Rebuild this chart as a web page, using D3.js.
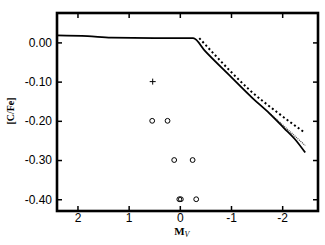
<!DOCTYPE html>
<html>
<head>
<meta charset="utf-8">
<script src="https://cdn.jsdelivr.net/npm/d3@7"></script>
<style>
  body { margin: 0; background: #fff; }
  svg text { font-family: "Liberation Sans", Arial, sans-serif; }
</style>
</head>
<body>
<div id="chart"></div>
<script>
// model curves: [Mv, [C/Fe]]
var solidLine = [[2.4, 0.018], [1.8, 0.016], [1.34, 0.012], [0.5, 0.011], [-0.26, 0.011],
    [-0.5, -0.023], [-1.0, -0.088], [-1.42, -0.142], [-1.75, -0.181], [-2.04, -0.219], [-2.25, -0.247], [-2.45, -0.281]];
var dashedLine = [[-0.38, 0.011], [-0.7, -0.034], [-1.0, -0.075], [-1.36, -0.121], [-1.9, -0.178], [-2.45, -0.231]];
var dottedLine = [[-1.75, -0.180], [-2.04, -0.214], [-2.45, -0.263]];

// observed stars
var plusStars = [[0.53, -0.10]];
var circleStars = [[0.54, -0.20], [0.24, -0.20], [0.11, -0.30], [-0.25, -0.30], [0.01, -0.40], [-0.02, -0.40], [-0.32, -0.40]];

var xTicks = [2, 1, 0, -1, -2];
var yTicks = [0.00, -0.10, -0.20, -0.30, -0.40];

var width = 325, height = 245;
var padL = 57, padR = 318, padT = 13, padB = 211;

var svg = d3.select("#chart").append("svg")
    .attr("width", width)
    .attr("height", height);

var x = d3.scaleLinear().domain([2.4, -2.7]).range([padL, padR]);
var y = d3.scaleLinear().domain([-0.43, 0.075]).range([padB, padT]);

/* axes: ticks point inward on all four sides */
var xb = svg.append("g").attr("transform", "translate(0," + padB + ")")
    .call(d3.axisBottom(x).tickValues(xTicks).tickSizeInner(-5).tickSizeOuter(0).tickPadding(2));
var xt = svg.append("g").attr("transform", "translate(0," + padT + ")")
    .call(d3.axisTop(x).tickValues(xTicks).tickSizeInner(-5).tickSizeOuter(0).tickFormat(""));
var yl = svg.append("g").attr("transform", "translate(" + padL + ",0)")
    .call(d3.axisLeft(y).tickValues(yTicks).tickSizeInner(-5).tickSizeOuter(0).tickPadding(5));
var yr = svg.append("g").attr("transform", "translate(" + padR + ",0)")
    .call(d3.axisRight(y).tickValues(yTicks).tickSizeInner(-5).tickSizeOuter(0).tickFormat(""));

[xb, xt, yl, yr].forEach(function(g){
    g.select(".domain").remove();
    g.selectAll(".tick line").attr("stroke", "#000").attr("stroke-width", 1.5);
    g.selectAll(".tick text").attr("fill", "#000").style("font-size", "12px");
});
yl.selectAll(".tick text").text(function(d){ return d.toFixed(2); });
xb.selectAll(".tick text").text(function(d){ return String(d); });

svg.append("rect")
    .attr("x", padL).attr("y", padT)
    .attr("width", padR - padL).attr("height", padB - padT)
    .attr("fill", "none").attr("stroke", "#000").attr("stroke-width", 2.6);

var line = d3.line().x(d => x(d[0])).y(d => y(d[1])).curve(d3.curveMonotoneX);

svg.append("path").datum(dottedLine).attr("d", line)
    .attr("fill", "none").attr("stroke", "#444").attr("stroke-width", 1.2)
    .attr("stroke-dasharray", "1,1");
svg.append("path").datum(dashedLine).attr("d", line)
    .attr("fill", "none").attr("stroke", "#000").attr("stroke-width", 2)
    .attr("stroke-dasharray", "2,2.6");
svg.append("path").datum(solidLine).attr("d", line)
    .attr("fill", "none").attr("stroke", "#000").attr("stroke-width", 1.8);

svg.selectAll("circle.star").data(circleStars).enter().append("circle")
    .attr("class", "star")
    .attr("cx", d => x(d[0])).attr("cy", d => y(d[1])).attr("r", 2.4)
    .attr("fill", "none").attr("stroke", "#000").attr("stroke-width", 1);

svg.selectAll("path.plus").data(plusStars).enter().append("path")
    .attr("class", "plus")
    .attr("d", d => "M" + (x(d[0]) - 3) + "," + y(d[1]) + "h6M" + x(d[0]) + "," + (y(d[1]) - 3) + "v6")
    .attr("stroke", "#000").attr("stroke-width", 1);

/* axis titles */
svg.append("text")
    .attr("transform", "translate(14," + ((padT + padB) / 2 - 1) + ") rotate(-90)")
    .attr("text-anchor", "middle")
    .style("font-family", "'Liberation Serif', 'Times New Roman', serif")
    .style("font-weight", "bold").style("font-size", "10px")
    .text("[C/Fe]");

var mv = svg.append("text")
    .attr("x", x(0) + 2).attr("y", 235)
    .attr("text-anchor", "middle")
    .style("font-family", "'Liberation Serif', 'Times New Roman', serif")
    .style("font-size", "11px");
mv.append("tspan").style("font-weight", "bold").text("M");
mv.append("tspan").attr("dy", 2).style("font-style", "italic").style("font-size", "8px").text("V");
</script>
</body>
</html>
